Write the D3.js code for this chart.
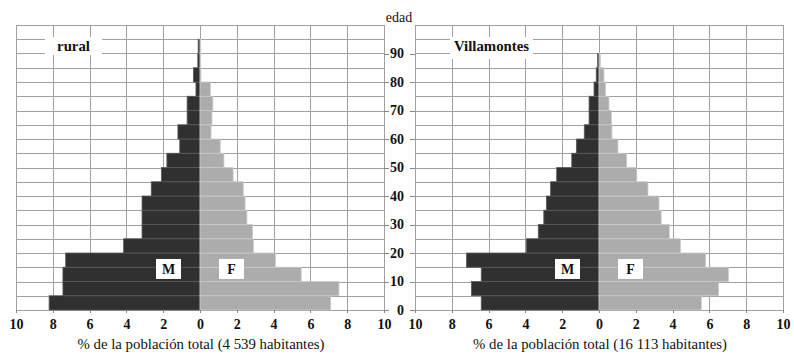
<!DOCTYPE html>
<meta charset="utf-8">
<style>
body { margin: 0; background-color: #fff; }
text { font-family: "Liberation Serif", "DejaVu Serif", serif; fill: #111; }
.grid line { stroke: #a0a0a0; stroke-width: 1px; shape-rendering: crispEdges; }
.axis path { display: none; }
.axis line { stroke: #888; shape-rendering: crispEdges; }
.axis text { font-size: 14px; font-weight: bold; font-family: "Liberation Serif", "DejaVu Serif", serif; }
.male { fill: #303030; stroke: #5a5a5a; stroke-width: 0.8px; }
.female { fill: #acacac; stroke: #cbcbcb; stroke-width: 0.8px; }
.title { font-size: 14.8px; }
.edad { font-size: 14px; }
.panelName { font-size: 14.8px; font-weight: bold; }
.sexLabel { font-size: 14px; font-weight: bold; }
</style>
<body>
<script src="https://cdn.jsdelivr.net/npm/d3@7"></script>
<script>

// age groups (lower bound of each 5-year class)
var ageGroups = [0, 5, 10, 15, 20, 25, 30, 35, 40, 45, 50, 55, 60, 65, 70, 75, 80, 85, 90, 95];

// % of total population, rural
var ruralMale   = [8.2, 7.45, 7.45, 7.3, 4.15, 3.15, 3.15, 3.15, 2.65, 2.1, 1.8, 1.1, 1.2, 0.7, 0.7, 0.22, 0.36, 0.12, 0.1, 0];
var ruralFemale = [7.1, 7.55, 5.5, 4.1, 2.9, 2.85, 2.55, 2.45, 2.35, 1.8, 1.3, 1.1, 0.6, 0.65, 0.7, 0.56, 0.05, 0.04, 0.04, 0];

// % of total population, Villamontes
var villaMale   = [6.4, 6.93, 6.4, 7.2, 3.95, 3.3, 3.0, 2.86, 2.63, 2.3, 1.48, 1.23, 0.8, 0.54, 0.54, 0.27, 0.15, 0.08, 0, 0];
var villaFemale = [5.56, 6.5, 7.03, 5.8, 4.43, 3.82, 3.38, 3.26, 2.66, 2.05, 1.5, 1.03, 0.7, 0.67, 0.54, 0.36, 0.27, 0.07, 0, 0];

var xTicks = [-10, -8, -6, -4, -2, 0, 2, 4, 6, 8, 10];
var ageTicks = [0, 10, 20, 30, 40, 50, 60, 70, 80, 90];
var panelNames = ["rural", "Villamontes"];
var axisTitles = ["% de la población total (4 539 habitantes)",
                  "% de la población total  (16 113 habitantes)"];
var sexLabels = ["M", "F"];

var width = 794, height = 354;

var svg = d3.select("body").append("svg")
    .attr("width", width)
    .attr("height", height);

// shared age scale
var y = d3.scaleLinear().domain([0, 100]).range([310, 25]);

var panels = [
  {name: panelNames[0], title: axisTitles[0], male: ruralMale, female: ruralFemale,
   range: [16, 384], nameBox: [45, 37, 57, 18]},
  {name: panelNames[1], title: axisTitles[1], male: villaMale, female: villaFemale,
   range: [415, 783], nameBox: [450, 37, 83, 22]}
];

panels.forEach(function(p, pi) {
  var x = d3.scaleLinear().domain([-10, 10]).range(p.range);
  var g = svg.append("g");

  // grid
  var grid = g.append("g").attr("class", "grid");
  grid.selectAll(".v")
      .data(xTicks)
    .enter().append("line")
      .attr("x1", function(d) { return Math.round(x(d)) + 0.5; })
      .attr("x2", function(d) { return Math.round(x(d)) + 0.5; })
      .attr("y1", y(100))
      .attr("y2", y(0));
  grid.selectAll(".h")
      .data(d3.range(0, 101, 5))
    .enter().append("line")
      .attr("x1", x(-10))
      .attr("x2", x(10))
      .attr("y1", function(d) { return Math.round(y(d)) + 0.5; })
      .attr("y2", function(d) { return Math.round(y(d)) + 0.5; });

  // panel name box
  g.append("rect")
      .attr("x", p.nameBox[0]).attr("y", p.nameBox[1])
      .attr("width", p.nameBox[2]).attr("height", p.nameBox[3])
      .attr("fill", "#fff");
  g.append("text")
      .attr("class", "panelName")
      .attr("x", p.nameBox[0] + p.nameBox[2] / 2)
      .attr("y", 51)
      .attr("text-anchor", "middle")
      .text(p.name);

  // bars
  g.selectAll(".male")
      .data(ageGroups)
    .enter().append("rect")
      .attr("class", "male")
      .filter(function(d, i) { return p.male[i] > 0; })
      .attr("x", function(d, i) { return x(-p.male[i]); })
      .attr("width", function(d, i) { return x(0) - x(-p.male[i]); })
      .attr("y", function(d) { return y(d + 5); })
      .attr("height", function(d) { return y(d) - y(d + 5); });

  g.selectAll(".female")
      .data(ageGroups)
    .enter().append("rect")
      .attr("class", "female")
      .filter(function(d, i) { return p.female[i] > 0; })
      .attr("x", x(0))
      .attr("width", function(d, i) { return x(p.female[i]) - x(0); })
      .attr("y", function(d) { return y(d + 5); })
      .attr("height", function(d) { return y(d) - y(d + 5); });

  // M / F labels
  [-1, 1].forEach(function(s, si) {
    var cx = x(0) + s * 31.5, cy = y(14.4);
    g.append("rect")
        .attr("x", cx - 12.5).attr("y", cy - 10)
        .attr("width", 25).attr("height", 20)
        .attr("fill", "#fff");
    g.append("text")
        .attr("class", "sexLabel")
        .attr("x", cx).attr("y", cy + 5)
        .attr("text-anchor", "middle")
        .text(sexLabels[si]);
  });

  // x axis
  g.append("g")
      .attr("class", "axis")
      .attr("transform", "translate(0," + y(0) + ")")
      .call(d3.axisBottom(x)
          .tickValues(xTicks)
          .tickSize(3)
          .tickPadding(6)
          .tickFormat(function(d) { return Math.abs(d); }));

  g.append("text")
      .attr("class", "title")
      .attr("x", x(0) + 1)
      .attr("y", 349)
      .attr("text-anchor", "middle")
      .text(p.title);
});

// age axis between panels
svg.append("g")
    .attr("class", "axis")
    .attr("transform", "translate(415,0)")
    .call(d3.axisLeft(y).tickValues(ageTicks).tickSize(5).tickPadding(6));

svg.append("g")
    .attr("class", "axis")
    .attr("transform", "translate(384,0)")
    .call(d3.axisRight(y).tickValues(ageTicks).tickSize(5).tickFormat(""));

svg.append("text")
    .attr("class", "edad")
    .attr("x", 399)
    .attr("y", 22)
    .attr("text-anchor", "middle")
    .text("edad");

</script>
</body>
